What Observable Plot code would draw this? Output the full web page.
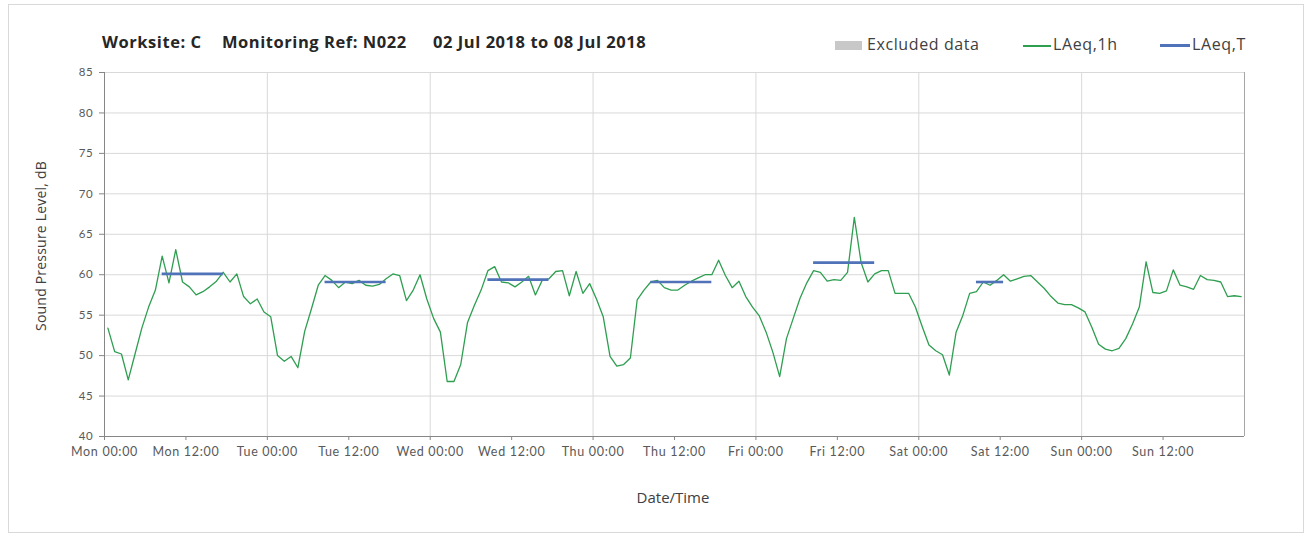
<!DOCTYPE html>
<html><head><meta charset="utf-8">
<script src="https://cdn.jsdelivr.net/npm/d3@7"></script>
<script src="https://cdn.jsdelivr.net/npm/@observablehq/plot@0.6"></script>
<style>
body{margin:0;background:#fff;font-family:"Open Sans",Lato,sans-serif;}
#wrap{position:relative;width:1311px;height:537px;overflow:hidden;background:#fff;}
#frame{position:absolute;left:8px;top:4px;width:1296px;height:529px;border:1px solid #d9d9d9;box-sizing:border-box;}
.tt{position:absolute;top:30px;font-weight:bold;font-size:16.5px;white-space:pre;color:#262626;letter-spacing:0.55px;}
.leg{position:absolute;top:33px;font-size:16px;color:#404040;white-space:pre;letter-spacing:0.6px;}
.sw{position:absolute;}
#ylab{position:absolute;left:40px;top:246px;transform:translate(-50%,-50%) rotate(-90deg);font-size:14px;color:#404040;white-space:pre;letter-spacing:0.2px;}
#xlab{position:absolute;left:673px;top:497px;transform:translate(-50%,-50%);font-size:15px;color:#404040;white-space:pre;}
#chart{position:absolute;left:0;top:60px;}
</style>
</head><body>
<div id="wrap">
  <div id="frame"></div>
  <div class="tt" style="left:102px;">Worksite: C</div>
  <div class="tt" style="left:222px;">Monitoring Ref: N022</div>
  <div class="tt" style="left:433px;">02 Jul 2018 to 08 Jul 2018</div>
  <div class="sw" style="left:835px;top:41px;width:27px;height:9px;background:#c8c8c8;"></div>
  <div class="leg" style="left:867px;">Excluded data</div>
  <div class="sw" style="left:1023px;top:45px;width:28px;height:1.5px;background:#2e9e50;"></div>
  <div class="leg" style="left:1053px;">LAeq,1h</div>
  <div class="sw" style="left:1160px;top:44px;width:30px;height:3px;background:#4f72b8;"></div>
  <div class="leg" style="left:1192px;">LAeq,T</div>
  <div id="ylab">Sound Pressure Level, dB</div>
  <div id="xlab">Date/Time</div>
  <div id="chart"></div>
</div>
<script>
// ---- data ----
const startDate = "2018-07-02T00:00:00Z";
const laeq1h = [
  53.4,50.5,50.2,47.0,50.2,53.4,56.0,58.1,62.3,59.0,63.1,59.1,58.5,57.5,57.9,58.5,59.2,60.3,59.1,60.1,57.3,56.4,57.0,55.4,
  54.8,50.0,49.3,49.9,48.5,53.0,55.8,58.7,59.9,59.3,58.4,59.1,58.9,59.3,58.7,58.6,58.8,59.5,60.1,59.9,56.8,58.1,60.0,57.0,
  54.6,52.9,46.8,46.8,48.9,54.1,56.2,58.1,60.5,61.0,59.1,59.0,58.5,59.1,59.8,57.5,59.3,59.5,60.4,60.5,57.4,60.4,57.7,58.9,
  57.0,54.8,49.9,48.7,48.9,49.7,56.9,58.1,59.1,59.3,58.4,58.1,58.1,58.7,59.2,59.6,60.0,60.0,61.8,59.9,58.4,59.2,57.3,56.0,
  54.9,52.9,50.4,47.4,52.1,54.6,57.1,59.0,60.5,60.3,59.2,59.4,59.3,60.3,67.1,61.5,59.1,60.1,60.5,60.5,57.7,57.7,57.7,56.0,
  53.6,51.3,50.6,50.1,47.6,52.9,55.0,57.7,57.9,59.1,58.7,59.3,60.0,59.2,59.5,59.8,59.9,59.1,58.3,57.3,56.5,56.3,56.3,55.9,
  55.4,53.5,51.4,50.8,50.6,50.9,52.1,53.9,56.0,61.6,57.8,57.7,58.0,60.6,58.7,58.5,58.2,59.9,59.4,59.3,59.1,57.3,57.4,57.3
];
const periodDays = ["2018-07-02","2018-07-03","2018-07-04","2018-07-05","2018-07-06","2018-07-07"];
const periodFirstHour = [8,8,8,8,8,8];
const periodLastHour = [17,17,17,17,17,12];
const laeqT = [60.1,59.1,59.4,59.1,61.5,59.1];
const yTicks = [40,45,50,55,60,65,70,75,80,85];

// ---- build ----
const H = 36e5;
const t0 = new Date(startDate);
const tEnd = new Date(+t0 + 7*24*H);
const hourData = laeq1h.map((v,i)=>({t:new Date(+t0 + (i+0.5)*H), v}));
const periodData = laeqT.map((v,k)=>{
  const d = new Date(periodDays[k]+"T00:00:00Z");
  return {x1:new Date(+d + (periodFirstHour[k]+0.5)*H), x2:new Date(+d + (periodLastHour[k]+0.5)*H), v};
});
const xTicks = d3.utcHour.every(12).range(t0, tEnd);
const dayGrid = d3.utcDay.range(new Date(+t0+1), tEnd);

const chart = Plot.plot({
  width:1311, height:470,
  marginLeft:104, marginRight:67, marginTop:12, marginBottom:94,
  style:{fontFamily:"Lato, 'Open Sans', sans-serif", color:"#595959", background:"transparent", overflow:"visible", letterSpacing:"0.7px"},
  x:{type:"utc", domain:[t0, tEnd]},
  y:{domain:[40,85]},
  marks:[
    Plot.gridY(yTicks, {stroke:"#d9d9d9", strokeOpacity:1}),
    Plot.gridX(dayGrid, {stroke:"#d9d9d9", strokeOpacity:1}),
    Plot.ruleX([tEnd], {stroke:"#a6a6a6"}),
    Plot.ruleY([40], {stroke:"#868686"}),
    Plot.ruleX([t0], {stroke:"#868686"}),
    Plot.axisY(yTicks, {tickSize:5, stroke:"#868686", tickPadding:6, fontSize:11.5, label:null}),
    Plot.axisX(xTicks, {tickFormat:d3.utcFormat("%a %H:%M"), tickSize:4, stroke:"#868686", tickPadding:7, fontSize:12.5, label:null}),
    Plot.line(hourData, {x:"t", y:"v", stroke:"#2e9e50", strokeWidth:1.3}),
    Plot.ruleY(periodData, {x1:"x1", x2:"x2", y:"v", stroke:"#4f72b8", strokeWidth:2.6})
  ]
});
document.getElementById("chart").appendChild(chart);
</script>
</body></html>
